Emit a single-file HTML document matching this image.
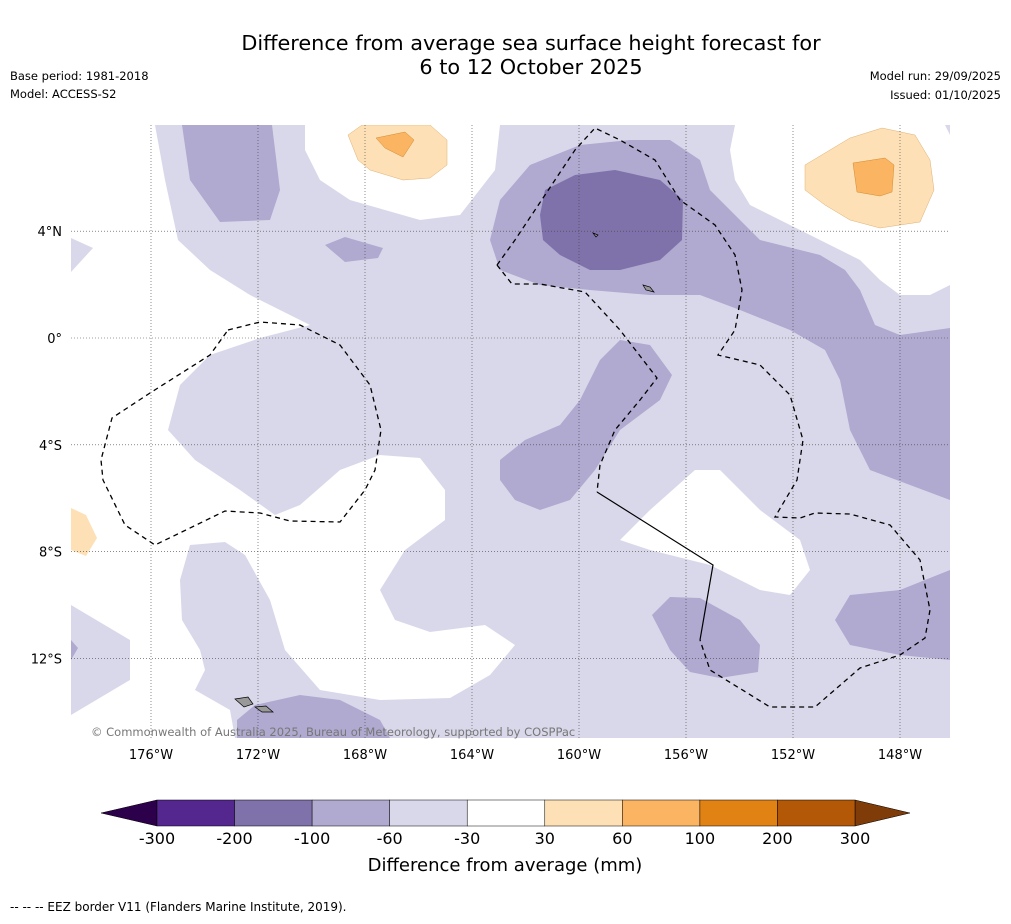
<!DOCTYPE html>
<html><head><meta charset="utf-8">
<style>
body{margin:0;background:#fff;font-family:"Liberation Sans","DejaVu Sans",sans-serif;}
svg text{font-family:"DejaVu Sans","Liberation Sans",sans-serif;}
</style></head>
<body>
<svg id="chart" width="1011" height="919" viewBox="0 0 1011 919" xmlns="http://www.w3.org/2000/svg">
<rect width="1011" height="919" fill="#fff"/>
<text x="531" y="50" font-size="20.8" text-anchor="middle">Difference from average sea surface height forecast for</text>
<text x="531" y="74" font-size="20.8" text-anchor="middle">6 to 12 October 2025</text>
<text x="10" y="80" font-size="11.5">Base period: 1981-2018</text>
<text x="10" y="98" font-size="11.5">Model: ACCESS-S2</text>
<text x="1001" y="80" font-size="11.5" text-anchor="end">Model run: 29/09/2025</text>
<text x="1001" y="99" font-size="11.5" text-anchor="end">Issued: 01/10/2025</text>
<defs><clipPath id="mapclip"><rect x="71" y="125" width="879" height="613"/></clipPath></defs>
<g clip-path="url(#mapclip)">
<rect x="71" y="125" width="879" height="613" fill="#d9d8ea"/>
<g fill="#fff">
<polygon points="71,125 155,125 165,180 178,240 210,270 250,295 310,325 260,338 210,355 180,385 168,430 195,460 240,490 275,515 300,505 340,470 380,455 420,458 445,490 445,520 405,550 380,590 395,620 430,632 485,625 515,645 490,675 450,698 380,700 320,690 285,650 270,600 245,555 225,542 190,545 180,580 182,620 200,650 205,670 195,690 230,710 235,738 71,738 71,715 130,680 130,640 71,605 71,272 93,248 71,238"/>
<polygon points="305,125 500,125 495,170 460,215 420,220 350,200 320,180 305,150"/>
<polygon points="735,125 945,125 950,135 950,285 930,295 900,295 880,280 860,260 830,245 790,225 750,205 735,180 730,150"/>
<polygon points="620,540 650,510 695,470 720,470 760,510 800,540 810,570 790,595 760,590 710,565 650,550"/>
</g>
<g fill="#b0a9d0">
<polygon points="182,125 272,125 280,190 270,220 220,222 190,180"/>
<polygon points="325,245 345,237 383,248 378,258 345,262"/>
<polygon points="490,240 500,200 530,165 580,145 630,140 670,140 700,160 710,190 740,220 760,240 820,255 845,270 860,290 875,325 900,335 950,328 950,500 910,485 870,470 850,430 840,380 825,350 790,330 740,310 700,295 650,295 590,290 540,285 500,270"/>
<polygon points="500,460 525,440 560,425 580,400 600,360 620,340 650,345 672,375 660,400 620,430 595,470 570,500 540,510 515,500 500,480"/>
<polygon points="652,615 670,597 700,598 740,620 760,645 758,672 720,678 690,672 670,650"/>
<polygon points="835,620 850,595 900,590 950,570 950,660 900,655 850,645"/>
<polygon points="237,720 255,705 300,695 340,700 380,720 390,738 237,738"/>
<polygon points="71,640 78,648 71,660"/>
</g>
<polygon fill="#7f72aa" points="540,215 545,190 575,175 615,170 660,180 683,200 682,240 660,260 620,270 590,270 560,255 543,240"/>
<g>
<polygon fill="#fde0b6" stroke="#e0b070" stroke-width="0.5" points="348,135 362,125 430,125 447,140 447,165 430,178 403,180 370,170 358,160"/>
<polygon fill="#fbb562" stroke="#d08a30" stroke-width="0.5" points="376,138 405,132 414,140 403,157 385,148"/>
<polygon fill="#fde0b6" stroke="#e0b070" stroke-width="0.5" points="805,165 850,138 882,128 915,135 930,160 934,190 920,222 880,228 850,220 825,205 805,190"/>
<polygon fill="#fbb562" stroke="#d08a30" stroke-width="0.5" points="853,163 885,158 894,165 892,192 880,196 857,192"/>
<polygon fill="#fde0b6" points="71,508 86,515 97,538 86,556 71,550"/>
</g>
<g id="grid"></g>
<g fill="none" stroke="#000" stroke-width="1.3" stroke-dasharray="5,4">
<polyline points="228,330 260,322 300,325 340,345 370,385 381,430 375,470 365,490 340,522 290,521 260,513 225,511 155,545 125,525 103,480 101,460 112,418 150,393 210,355 228,330"/>
<polyline points="497,265 515,240 545,195 575,150 595,128 620,140 655,160 680,200 715,225 735,255 742,290 735,330 718,355 760,365 790,395 803,440 797,480 775,517 800,518 815,513 850,514 890,525 920,560 930,610 925,638 900,655 860,668 815,707 770,707 710,670 700,640"/>
<polyline points="497,265 512,284 540,284 585,292 620,330 657,378 640,400 615,430 600,465 597,492"/>
</g>
<polyline fill="none" stroke="#000" stroke-width="1.2" points="597,492 713,565 700,640"/>
<g fill="#999" stroke="#000" stroke-width="0.7">
<polygon points="235,699 248,697 253,704 244,707"/>
<polygon points="255,707 266,706 273,712 262,712"/>
<polygon points="593,233 598,235 596,237"/>
<polygon points="643,285 650,287 654,292 646,290"/>
</g>
</g>
<g id="axes"></g>
<text x="91" y="736" font-size="11.5" fill="#777">© Commonwealth of Australia 2025, Bureau of Meteorology, supported by COSPPac</text>
<g id="colorbar"></g>
<text x="505" y="871" font-size="18" text-anchor="middle">Difference from average (mm)</text>
<text x="10" y="911" font-size="12" font-family="Liberation Sans">--  --  -- EEZ border V11 (Flanders Marine Institute, 2019).</text>
</svg>
<script>
const lonTicks=[-176,-172,-168,-164,-160,-156,-152,-148];
const lonLabels=["176°W","172°W","168°W","164°W","160°W","156°W","152°W","148°W"];
const latTicks=[4,0,-4,-8,-12];
const latLabels=["4°N","0°","4°S","8°S","12°S"];
const levelLabels=["-300","-200","-100","-60","-30","30","60","100","200","300"];
const levelColors=["#54278f","#7f72aa","#b0a9d0","#d9d8ea","#ffffff","#fde0b6","#fbb562","#e08214","#b35806"];
const ns="http://www.w3.org/2000/svg";
function xLon(l){return 151+(l+176)*26.75;}
function yLat(l){return 338-l*26.7;}
function mk(tag,attrs,parent){const e=document.createElementNS(ns,tag);for(const k in attrs)e.setAttribute(k,attrs[k]);parent.appendChild(e);return e;}
const grid=document.getElementById('grid'),axes=document.getElementById('axes');
lonTicks.forEach((l,i)=>{
 const x=xLon(l);
 const g=mk('line',{x1:x,x2:x,y1:125,y2:738,stroke:'#444','stroke-width':0.6,'stroke-dasharray':'1,2'},grid);
 
 
 const t=mk('text',{x:x,y:759,'font-size':13,'text-anchor':'middle'},axes);t.textContent=lonLabels[i];
 
 
});
latTicks.forEach((l,i)=>{
 const y=yLat(l);
 const g=mk('line',{x1:71,x2:950,y1:y,y2:y,stroke:'#444','stroke-width':0.6,'stroke-dasharray':'1,2'},grid);
 
 
 const t=mk('text',{x:62,y:y+5,'font-size':13,'text-anchor':'end'},axes);t.textContent=latLabels[i];
 
 
});
const cb=document.getElementById('colorbar');
const x0=157,x1=855,cy0=800,ch=26,n=levelColors.length,w=(x1-x0)/n;
const lt=mk('polygon',{points:`101,813 ${x0},${cy0} ${x0},${cy0+ch}`,fill:'#2d004b',stroke:'#000','stroke-width':0.5},cb);


const rt=mk('polygon',{points:`910,813 ${x1},${cy0} ${x1},${cy0+ch}`,fill:'#7f3b08',stroke:'#000','stroke-width':0.5},cb);


levelColors.forEach((c,i)=>{
 const r=mk('rect',{x:x0+i*w,y:cy0,width:w,height:ch,fill:c,stroke:'#000','stroke-width':0.5},cb);
 
 
});
levelLabels.forEach((s,i)=>{
 const t=mk('text',{x:x0+i*w,y:844,'font-size':16,'text-anchor':'middle'},cb);t.textContent=s;
 
 
});
</script>
</body></html>
